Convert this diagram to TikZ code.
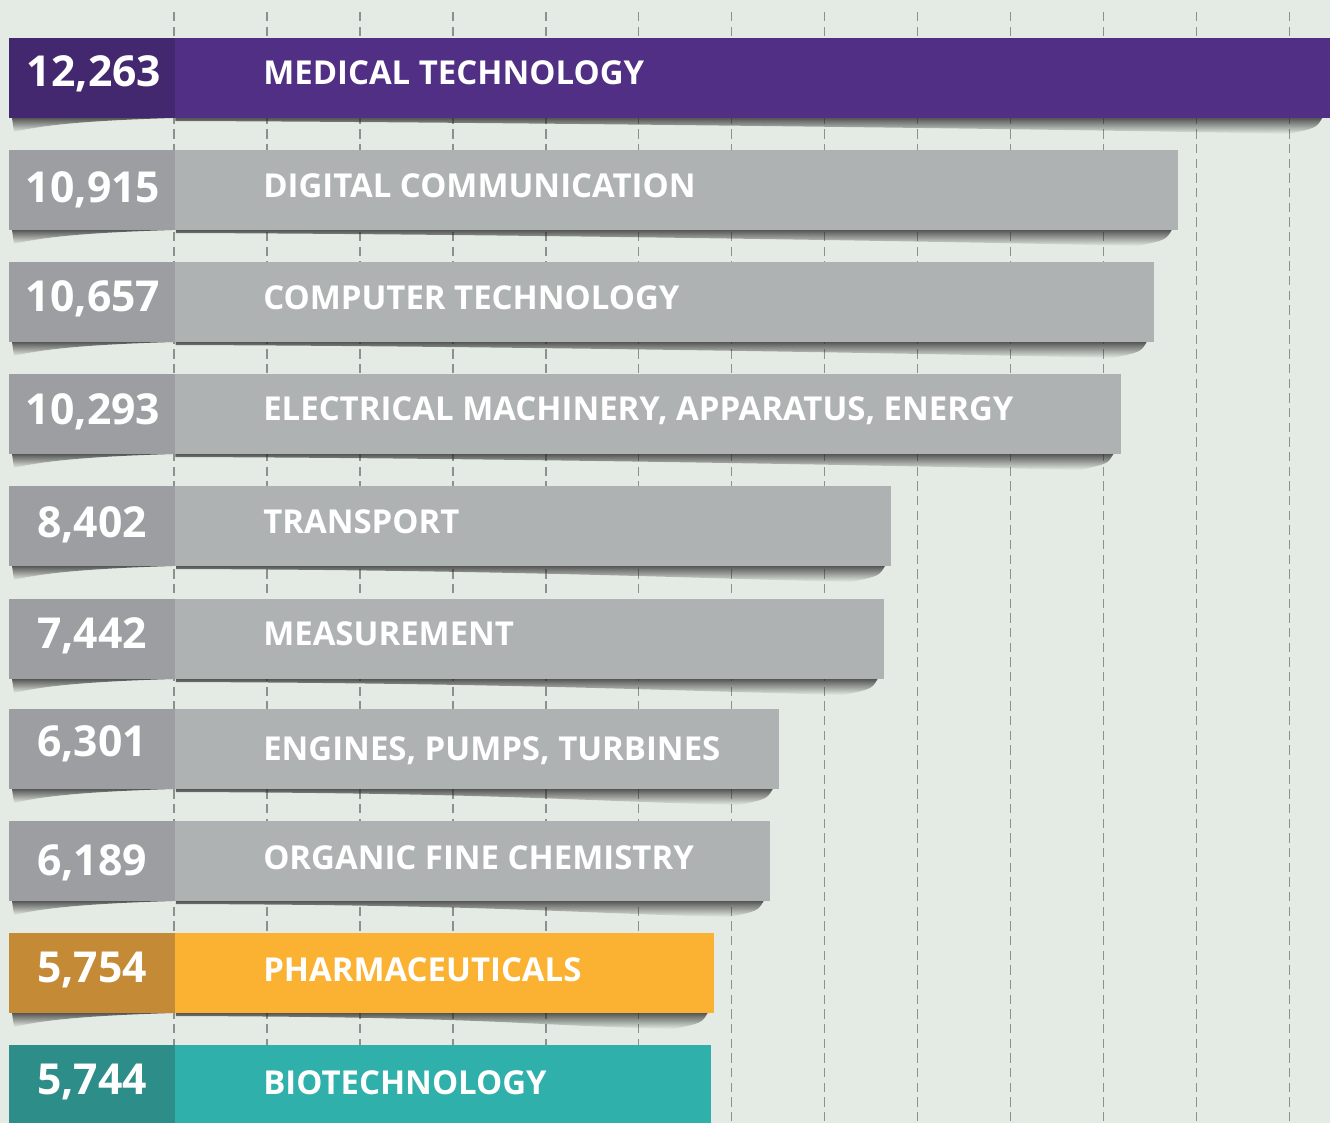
\documentclass[tikz,border=0pt]{standalone}
\usepackage{fontspec}
\setmainfont{Open Sans}
\usetikzlibrary{fadings}
\definecolor{bgc}{HTML}{E4EBE4}
\definecolor{gridc}{HTML}{8C9190}
\definecolor{purM}{HTML}{512F84}
\definecolor{purD}{HTML}{43286F}
\definecolor{gryM}{HTML}{AFB2B3}
\definecolor{gryD}{HTML}{9C9EA1}
\definecolor{orgM}{HTML}{FBB232}
\definecolor{orgD}{HTML}{C48A35}
\definecolor{teaM}{HTML}{2FB0AA}
\definecolor{teaD}{HTML}{2D8D88}
\tikzfading[name=shfade, top color=transparent!0, bottom color=transparent!100]
\begin{document}
\begin{tikzpicture}[x=0.75pt,y=-0.75pt,
  gridline/.style={draw=gridc, line width=1.1pt, dash pattern=on 7pt off 4pt},
  shadowfill/.style={fill=black!85, opacity=0.75, path fading=shfade},
  numtxt/.style={text=white, font=\fontsize{32}{34}\selectfont\bfseries, inner sep=0pt, anchor=center},
  labtxt/.style={text=white, font=\fontsize{24.7}{26}\selectfont\bfseries, inner sep=0pt, anchor=west}]
\useasboundingbox (0,0) rectangle (1330,1123);
\fill[bgc] (0,0) rectangle (1330,1123);
% grid
\foreach \k in {0,...,12}{
  \draw[gridline] ({174+92.95*\k},12) -- ({174+92.95*\k},1123);
}
% bars
\foreach \i/\t/\r/\c/\d/\n/\l/\nx/\ny/\ly in {
  1/38/1330/purM/purD/{12,263}/{MEDICAL TECHNOLOGY}/94/36/35,
  2/150/1178/gryM/gryD/{10,915}/{DIGITAL COMMUNICATION}/93/40/36,
  3/262/1154/gryM/gryD/{10,657}/{COMPUTER TECHNOLOGY}/93/37/36,
  4/374/1121/gryM/gryD/{10,293}/{ELECTRICAL MACHINERY, APPARATUS, ENERGY}/93/38/37,
  5/486/891/gryM/gryD/{8,402}/{TRANSPORT}/92/39/36,
  6/599/884/gryM/gryD/{7,442}/{MEASUREMENT}/92/37/35,
  7/709/779/gryM/gryD/{6,301}/{ENGINES, PUMPS, TURBINES}/92/35/42,
  8/821/770/gryM/gryD/{6,189}/{ORGANIC FINE CHEMISTRY}/92/42/37,
  9/933/714/orgM/orgD/{5,754}/{PHARMACEUTICALS}/92/37/37,
  10/1045/711/teaM/teaD/{5,744}/{BIOTECHNOLOGY}/92/37/38}{
  \pgfmathsetmacro\b{\t+80}
  % shadows
  \fill[shadowfill] (12,\b) -- (172,\b) .. controls (110,\b+2) and (50,\b+5) .. (14,\b+14) -- cycle;
  \fill[shadowfill] (176,\b) -- (\r-6,\b) .. controls (\r-12,\b+10) .. (\r-40,\b+16) .. controls (\r-200,\b+12) and (500,\b+4) .. (176,\b+3) -- cycle;
  % bar
  \fill[\c] (175,\t) rectangle (\r,\b);
  \fill[\d] (9,\t) rectangle (175,\b);
  \node[numtxt] (n\i) at (\nx,\t+\ny) {\n};
  \node[labtxt] (l\i) at (263,\t+\ly) {\l};
}
\end{tikzpicture}
\end{document}
